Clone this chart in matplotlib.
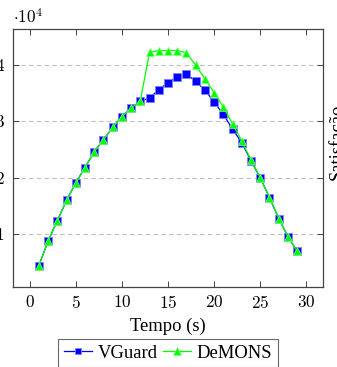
import matplotlib
matplotlib.use("Agg")
import matplotlib.pyplot as plt
from matplotlib.ticker import FuncFormatter
import numpy as np

# data (values in units, shown as x 10^4)
tempo = list(range(1, 30))
vguard = [4500, 8800, 12400, 16000, 19100, 21800, 24600, 26700, 28900, 30800,
          32300, 33500, 34100, 35600, 36800, 37900, 38300, 37100, 35500, 33400,
          31200, 28600, 26200, 23000, 20000, 16500, 12800, 9600, 7000]
demons = [4500, 8800, 12400, 16000, 19100, 21800, 24600, 26700, 28900, 30800,
          32300, 33600, 42200, 42500, 42500, 42500, 42100, 39900, 37500, 35000,
          32500, 29500, 26500, 23100, 20000, 16500, 12800, 9600, 7000]
xticks = [0, 5, 10, 15, 20, 25, 30]
yticks = [10000, 20000, 30000, 40000]

plt.rcParams['font.family'] = ['Liberation Serif', 'DejaVu Serif']
plt.rcParams['mathtext.fontset'] = 'cm'

W, H = 337, 367
fig = plt.figure(figsize=(W / 100, H / 100), dpi=100)
ax = fig.add_axes([13 / W, 80 / H, 310 / W, 258 / H])

ax.plot(tempo, vguard, color='blue', lw=0.9, marker='s', ms=5.2,
        mfc='blue', mec='#8080ff', mew=0.6, label='VGuard', zorder=3)
ax.plot(tempo, demons, color='#00ff00', lw=0.9, marker='^', ms=6,
        mfc='#00ff00', mec='#80ff80', mew=0.5, label='DeMONS', zorder=4)

# pgfplots style enlarged limits
allv = vguard + demons
lo, hi = min(allv), max(allv)
ax.set_xlim(1 - 0.1 * 28, 29 + 0.1 * 28)
ax.set_ylim(lo - 0.1 * (hi - lo), hi + 0.1 * (hi - lo))

ax.set_xticks(xticks)
ax.set_yticks(yticks)
ax.xaxis.set_major_formatter(FuncFormatter(lambda v, p: r'$%d$' % v))
ax.yaxis.set_major_formatter(FuncFormatter(lambda v, p: r'$%d$' % round(v / 10000)))
ax.tick_params(direction='in', length=4.5, width=0.7, color='#444444',
               top=True, right=True, labelsize=12.3, pad=6)
ax.grid(axis='y', color='#c0c0c0', ls=(0, (4, 3)), lw=0.8)
for s in ax.spines.values():
    s.set_color('#444444')
    s.set_linewidth(0.9)

ax.set_xlabel('Tempo (s)', fontsize=13.4, labelpad=4)

fig.text(13 / W, 1 - 23 / H, r'$\cdot10^{4}$', fontsize=12.3, ha='left', va='baseline')
fig.text(328 / W, 1 - 142 / H, 'Satisfação', rotation=90, fontsize=13.4,
         ha='left', va='center')

leg = fig.legend(loc='upper center', bbox_to_anchor=(168 / W, 1 - 339 / H),
                 borderaxespad=0, ncol=2, fontsize=13.4, frameon=True,
                 fancybox=False, edgecolor='#444444', handlelength=1.5,
                 handletextpad=0.3, columnspacing=0.3, borderpad=0.3,
                 numpoints=1, markerscale=0.9)
leg.get_frame().set_linewidth(0.8)

fig.savefig('out.png', dpi=100)
